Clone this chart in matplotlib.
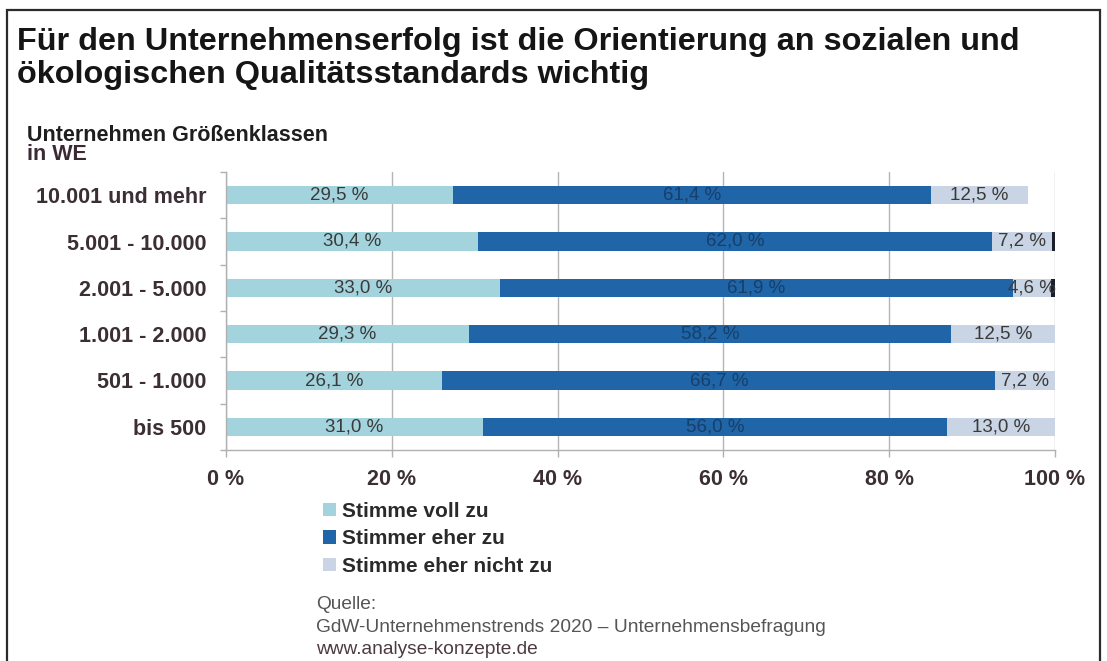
import matplotlib
matplotlib.use('Agg')
import matplotlib.pyplot as plt
from matplotlib.patches import Rectangle, Patch
import numpy as np

plt.rcParams['font.family'] = ['Liberation Sans', 'DejaVu Sans']

# data (top row first)
categories = ['10.001 und mehr', '5.001 - 10.000', '2.001 - 5.000',
              '1.001 - 2.000', '501 - 1.000', 'bis 500']
series_names = ['Stimme voll zu', 'Stimmer eher zu', 'Stimme eher nicht zu']

# printed percentages
voll_zu = [29.5, 30.4, 33.0, 29.3, 26.1, 31.0]
eher_zu = [61.4, 62.0, 61.9, 58.2, 66.7, 56.0]
eher_nicht_zu = [12.5, 7.2, 4.6, 12.5, 7.2, 13.0]

# drawn bar lengths (first row is drawn shorter than its labels)
voll_zu_bar = [27.4, 30.4, 33.0, 29.3, 26.1, 31.0]
eher_zu_bar = [57.6, 62.0, 61.9, 58.2, 66.7, 56.0]
eher_nicht_zu_bar = [11.7, 7.2, 4.6, 12.5, 7.2, 13.0]
keine_angabe_bar = [0.0, 0.4, 0.5, 0.0, 0.0, 0.0]

xticks = [0, 20, 40, 60, 80, 100]

W, H = 1107, 661
C_LIGHT = '#a3d3dd'
C_DARK = '#1f65a7'
C_GREY = '#c9d5e4'
C_REST = '#1b1f2b'
C_TEXT = '#3b2f35'


def fx(x):
    return x / W


def fy(y):
    return 1 - y / H


fig = plt.figure(figsize=(W / 100, H / 100), dpi=100)

# frame around the chart
fig.patches.append(Rectangle((fx(7), fy(700)), fx(1100) - fx(7), fy(10) - fy(700),
                             transform=fig.transFigure, fill=False,
                             edgecolor='#2b2b2b', linewidth=1.6))

fig.text(fx(17), fy(50), 'Für den Unternehmenserfolg ist die Orientierung an sozialen und',
         fontsize=23.3, fontweight='bold', color='#151515', va='baseline')
fig.text(fx(17), fy(83), 'ökologischen Qualitätsstandards wichtig',
         fontsize=23.3, fontweight='bold', color='#151515', va='baseline')

fig.text(fx(27), fy(141), 'Unternehmen Größenklassen', fontsize=15.5,
         fontweight='bold', color='#1e1e1e', va='baseline')
fig.text(fx(27), fy(160), 'in WE', fontsize=15.5, fontweight='bold',
         color='#3b2a33', va='baseline')

ax = fig.add_axes([fx(226), fy(450), fx(1055) - fx(226), fy(172) - fy(450)])

y = np.arange(len(categories))
h = 0.40
left = np.zeros(len(categories))
segments = [(voll_zu_bar, voll_zu, C_LIGHT, '#3a3a3a'),
            (eher_zu_bar, eher_zu, C_DARK, '#173f6a'),
            (eher_nicht_zu_bar, eher_nicht_zu, C_GREY, '#3a3a3a')]
for widths, labels, color, tcolor in segments:
    widths = np.array(widths)
    ax.barh(y, widths, left=left, height=h, color=color, zorder=2)
    for yi, l, w, v in zip(y, left, widths, labels):
        ax.text(l + w / 2, yi, f'{v:.1f} %'.replace('.', ','), ha='center',
                va='center', fontsize=13.5, color=tcolor, zorder=3)
    left = left + widths
ax.barh(y, keine_angabe_bar, left=left, height=h, color=C_REST, zorder=2)

ax.set_xlim(0, 100)
ax.set_ylim(len(categories) - 0.5, -0.5)
ax.set_xticks(xticks)
ax.set_xticklabels([f'{t} %' for t in xticks])
ax.set_yticks(y)
ax.set_yticklabels(categories)
ax.set_yticks(np.arange(len(categories) + 1) - 0.5, minor=True)

ax.tick_params(axis='x', length=5, width=1, color='#b0b0b0', pad=9,
               labelsize=15.5, labelcolor=C_TEXT)
for lab in ax.get_xticklabels():
    lab.set_fontweight('bold')
ax.tick_params(axis='y', which='major', length=0, pad=14, labelsize=15.5,
               labelcolor=C_TEXT)
for lab in ax.get_yticklabels():
    lab.set_fontweight('bold')
ax.tick_params(axis='y', which='minor', length=4, width=1, color='#b0b0b0')

ax.grid(axis='x', color='#b5b5b5', linewidth=1, zorder=0)
ax.set_axisbelow(True)
for side in ['top', 'right']:
    ax.spines[side].set_visible(False)
for side in ['left', 'bottom']:
    ax.spines[side].set_color('#b0b0b0')
    ax.spines[side].set_linewidth(1)

handles = [Patch(facecolor=c, edgecolor='none') for c in (C_LIGHT, C_DARK, C_GREY)]
fig.legend(handles, series_names, loc='upper left',
           bbox_to_anchor=(fx(323), fy(502)), frameon=False,
           prop={'size': 15, 'weight': 'bold'}, labelcolor='#2a2a2a',
           handlelength=0.6, handleheight=0.6, handletextpad=0.3,
           labelspacing=0.4, borderpad=0, borderaxespad=0)

fig.text(fx(316), fy(609), 'Quelle:', fontsize=13.8, color='#555555', va='baseline')
fig.text(fx(316), fy(632), 'GdW-Unternehmenstrends 2020 – Unternehmensbefragung',
         fontsize=13.8, color='#555555', va='baseline')
fig.text(fx(316), fy(654), 'www.analyse-konzepte.de', fontsize=13.8,
         color='#4d3a42', va='baseline')

fig.savefig('out.png', dpi=100)
plt.close(fig)
